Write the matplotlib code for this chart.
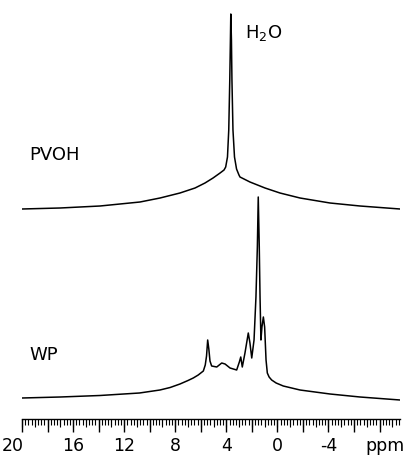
import matplotlib
matplotlib.use("Agg")
import matplotlib.pyplot as plt
import matplotlib.transforms as mtransforms
from matplotlib.ticker import MultipleLocator

# PVOH spectrum (ppm, intensity in arbitrary units)
pvoh_ppm = [20.0, 17.02, 13.89, 10.76, 9.19, 7.63, 6.45, 5.67, 5.04, 4.49, 4.18,
            4.05, 3.91, 3.81, 3.73, 3.68, 3.65, 3.60, 3.56, 3.48, 3.36, 3.20,
            3.01, 2.93, 2.15, 0.97, -0.20, -1.77, -4.12, -6.47, -9.6]
pvoh_int = [210, 211, 213, 217, 221, 226, 231, 236, 241, 246, 249,
            252, 262, 289, 339, 379, 405, 379, 339, 289, 262, 250,
            244, 242, 237, 231, 226, 221, 216, 213, 210]

# WP spectrum
wp_ppm = [20.0, 17.0, 13.9, 10.8, 9.2, 8.4, 7.63, 7.0, 6.59, 6.2, 5.80, 5.65,
          5.55, 5.46, 5.37, 5.28, 5.15, 4.75, 4.36, 4.10, 3.71, 3.19, 2.98,
          2.87, 2.75, 2.54, 2.28, 2.15, 2.01, 1.83, 1.68, 1.57, 1.50, 1.42,
          1.36, 1.29, 1.21, 1.10, 1.00, 0.89, 0.79, 0.65, 0.45, 0.1, -0.46,
          -1.77, -4.12, -6.47, -9.6]
wp_int = [21, 22, 23.5, 26, 29, 31.5, 35, 38.5, 41, 44, 48, 54,
          63, 79, 70, 58, 53, 52, 56, 55, 51, 49, 57,
          62, 52, 66, 86, 76, 61, 79, 122, 172, 222, 172,
          122, 79, 92, 102, 92, 59, 46, 42, 39, 36, 33,
          29, 25, 22, 19]

tick_labels = ["20", "16", "12", "8", "4", "0", "-4"]
tick_values = [20, 16, 12, 8, 4, 0, -4]

W, H = 404, 462
fig = plt.figure(figsize=(W / 100, H / 100), dpi=100)
ax = fig.add_axes([22 / W, 43 / H, 378 / W, 419 / H])
ax.plot(pvoh_ppm, pvoh_int, color="black", lw=1.1)
ax.plot(wp_ppm, wp_int, color="black", lw=1.1)
ax.set_ylim(0, 419)

for s in ["top", "left", "right"]:
    ax.spines[s].set_visible(False)
ax.spines["bottom"].set_linewidth(1.0)
ax.set_yticks([])

major_locs = list(range(20, -10, -2))
ax.set_xticks(major_locs)
ax.set_xticklabels([str(v) if v in tick_values else "" for v in major_locs])
ax.xaxis.set_minor_locator(MultipleLocator(0.25))
ax.tick_params(axis="x", which="major", length=9, width=1.0, direction="out",
               pad=4, labelsize=12.5)
ax.tick_params(axis="x", which="minor", length=4, width=0.8, direction="out")
ax.set_xlim(20, -9.6)

# shift first label ("20") left as in the reference
lbl = ax.get_xticklabels()[0]
lbl.set_transform(lbl.get_transform() +
                  mtransforms.ScaledTranslation(-9 / 100, 0, fig.dpi_scale_trans))

# medium ticks every 1 ppm
ax2 = ax.twiny()
ax2.set_xlim(ax.get_xlim())
ax2.xaxis.set_ticks_position("bottom")
ax2.xaxis.set_major_locator(MultipleLocator(1))
ax2.tick_params(axis="x", which="major", length=6, width=0.8, labelbottom=False,
                labeltop=False)
for s in ax2.spines.values():
    s.set_visible(False)
ax2.set_yticks([])

fig.text(385 / W, 1 - 446 / H, "ppm", ha="center", va="center", fontsize=12.5)
fig.text(29 / W, 1 - 155 / H, "PVOH", ha="left", va="center", fontsize=13)
fig.text(29 / W, 1 - 355 / H, "WP", ha="left", va="center", fontsize=13)
fig.text(245 / W, 1 - 33 / H, r"H$_2$O", ha="left", va="center", fontsize=13)

fig.savefig("out.png", dpi=100)
